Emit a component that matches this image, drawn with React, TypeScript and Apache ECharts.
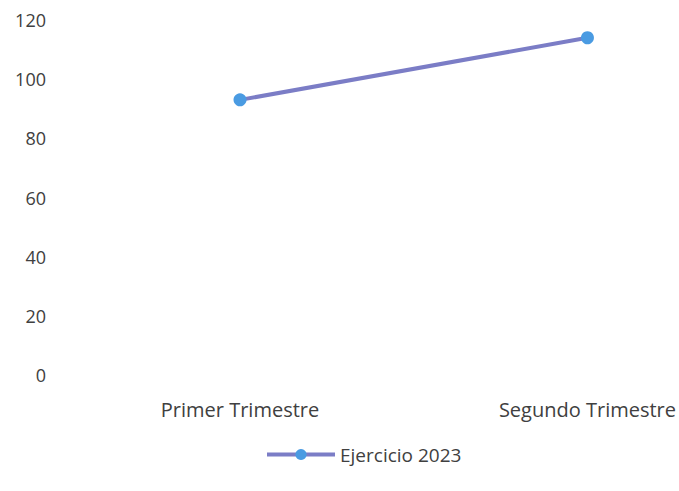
import React, { useEffect, useRef } from "react";
import * as echarts from "echarts";

const categories = ["Primer Trimestre", "Segundo Trimestre"];
const seriesName = "Ejercicio 2023";
const values = [93, 114];

export default function App() {
  const ref = useRef<HTMLDivElement>(null);
  useEffect(() => {
    document.body.style.margin = "0";
    const chart = echarts.init(ref.current!, null, { renderer: "svg" });
    const font = "'Open Sans', 'Noto Sans', sans-serif";
    chart.setOption({
      animation: false,
      backgroundColor: "#ffffff",
      textStyle: { fontFamily: font },
      grid: { left: 240, right: 90, top: 20, bottom: 116 },
      xAxis: {
        type: "category",
        data: categories,
        boundaryGap: false,
        axisLine: { show: false },
        axisTick: { show: false },
        splitLine: { show: false },
        axisLabel: { color: "#404040", fontSize: 20, margin: 24, fontFamily: font },
      },
      yAxis: {
        type: "value",
        min: 0,
        max: 120,
        interval: 20,
        axisLine: { show: false },
        axisTick: { show: false },
        splitLine: { show: false },
        axisLabel: { color: "#404040", fontSize: 18, margin: 194, align: "right", fontFamily: font },
      },
      legend: {
        data: [seriesName],
        left: 260,
        top: 440,
        itemWidth: 68,
        itemHeight: 14,
        itemGap: 4,
        lineStyle: { width: 4 },
        textStyle: { color: "#404040", fontSize: 19, fontFamily: font },
      },
      series: [
        {
          name: seriesName,
          type: "line",
          data: values,
          symbol: "circle",
          symbolSize: 13,
          lineStyle: { color: "#7b7dc6", width: 4 },
          itemStyle: { color: "#4a9be2" },
        },
      ],
    });
    return () => chart.dispose();
  }, []);
  return <div ref={ref} style={{ width: 679, height: 491 }} />;
}
